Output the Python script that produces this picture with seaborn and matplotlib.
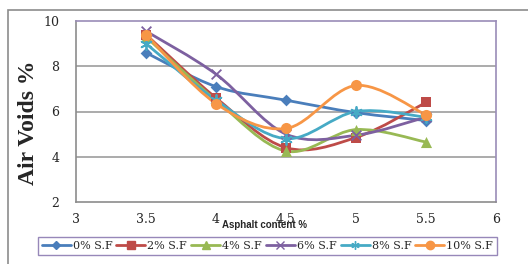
import numpy as np
import pandas as pd
import matplotlib
matplotlib.use("Agg")
import matplotlib.pyplot as plt
import seaborn as sns
from matplotlib.path import Path
from matplotlib.patches import PathPatch, Rectangle
from matplotlib.lines import Line2D

# Datos
asphalt = [3.5, 4.0, 4.5, 5.0, 5.5]
sf_0 = [8.6, 7.1, 6.5, 5.95, 5.6]
sf_2 = [9.4, 6.6, 4.4, 4.85, 6.4]
sf_4 = [9.3, 6.5, 4.25, 5.2, 4.65]
sf_6 = [9.55, 7.65, 5.0, 4.95, 5.75]
sf_8 = [9.0, 6.5, 4.8, 6.0, 5.75]
sf_10 = [9.4, 6.35, 5.25, 7.15, 5.85]
labels = ["0% S.F", "2% S.F", "4% S.F", "6% S.F", "8% S.F", "10% S.F"]

series = [sf_0, sf_2, sf_4, sf_6, sf_8, sf_10]
colors = ["#4A7EBB", "#BE4B48", "#98B954", "#7D60A0", "#46AAC5", "#F79646"]
markers = ["D", "s", "^", "x", (6, 2, 0), "o"]
msizes = [6, 7, 8, 7, 8, 8]

sns.set_style("white")
plt.rcParams["font.family"] = ["DejaVu Serif"]


def smooth_path(xs, ys):
    # curva tipo Excel (Catmull-Rom como Bezier)
    pts = np.column_stack([xs, ys]).astype(float)
    n = len(pts)
    verts = [pts[0]]
    codes = [Path.MOVETO]
    for i in range(n - 1):
        p_prev = pts[i - 1] if i > 0 else pts[i]
        p_next2 = pts[i + 2] if i + 2 < n else pts[i + 1]
        c1 = pts[i] + (pts[i + 1] - p_prev) / 6
        c2 = pts[i + 1] - (p_next2 - pts[i]) / 6
        verts += [c1, c2, pts[i + 1]]
        codes += [Path.CURVE4] * 3
    return Path(verts, codes)


fig = plt.figure(figsize=(5.28, 2.64), dpi=100)
ax = fig.add_axes([76 / 528, 62 / 264, 420 / 528, 181 / 264])

# marco exterior del gráfico
fig.patches.append(Rectangle((8 / 528, -0.1), 1.2, 1.1 - 10 / 264,
                             transform=fig.transFigure, fill=False,
                             edgecolor="#8C8C8C", lw=1.2))

for y in [4, 6, 8]:
    ax.axhline(y, color="#ABABAB", lw=1.4, zorder=0)

handles = []
for vals, lab, col, mk, ms in zip(series, labels, colors, markers, msizes):
    patch = PathPatch(smooth_path(asphalt, vals), facecolor="none",
                      edgecolor=col, lw=2.0, zorder=2, capstyle="round")
    ax.add_patch(patch)
    df = pd.DataFrame({"x": asphalt, "y": vals})
    if mk in ["x", (6, 2, 0)]:
        sns.scatterplot(data=df, x="x", y="y", marker=mk, s=ms ** 2,
                        color=col, linewidth=1.3, ax=ax, zorder=3)
    else:
        sns.scatterplot(data=df, x="x", y="y", marker=mk, s=ms ** 2,
                        color=col, edgecolor=col, linewidth=0, ax=ax, zorder=3)
    handles.append(Line2D([0], [0], color=col, lw=2.0, marker=mk,
                          markersize=ms * 0.75, markeredgewidth=1.0,
                          markeredgecolor=col, markerfacecolor=col))

ax.set_xlim(3, 6)
ax.set_ylim(2, 10)
ax.set_xticks([3, 3.5, 4, 4.5, 5, 5.5, 6])
ax.set_xticklabels(["3", "3.5", "4", "4.5", "5", "5.5", "6"])
ax.set_yticks([2, 4, 6, 8, 10])
ax.tick_params(axis="both", direction="out", length=4, width=1,
               color="#8C8C8C", labelsize=9, pad=4)
ax.tick_params(axis="y", pad=8)

for side in ["left", "bottom"]:
    ax.spines[side].set_color("#8C8C8C")
    ax.spines[side].set_linewidth(1.2)
for side in ["top", "right"]:
    ax.spines[side].set_color("#9A8CB8")
    ax.spines[side].set_linewidth(1.2)

ax.set_xlabel("")
ax.set_ylabel("Air Voids %", fontsize=17, fontweight="bold",
              family="Liberation Serif")
ax.yaxis.set_label_coords(-(76 - 39) / 420, 0.44)
fig.text(264 / 528, 1 - 225 / 264, "Asphalt content %", fontsize=7,
         fontweight="bold", family="Liberation Sans", ha="center", va="center")

leg = fig.legend(handles, labels, loc="center", ncol=6,
                 bbox_to_anchor=(267.5 / 528, 18 / 264), fontsize=8,
                 frameon=True, fancybox=False, handlelength=2.6,
                 handletextpad=0.2, columnspacing=0.35, borderpad=0.35)
leg.get_frame().set_edgecolor("#7D6AA8")
leg.get_frame().set_linewidth(1.0)

fig.savefig("out.png", dpi=100)
